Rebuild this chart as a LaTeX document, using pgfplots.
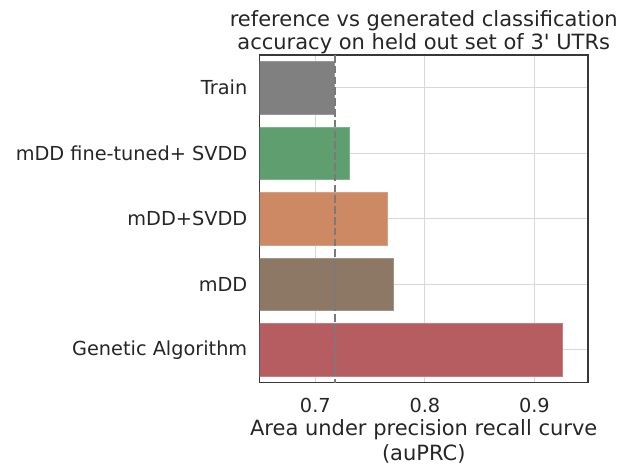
\documentclass[border=0pt]{standalone}
\usepackage{pgfplots}
\pgfplotsset{compat=1.18}
\usepackage{fontspec}
\setmainfont{DejaVu Sans}
\definecolor{txt}{HTML}{262626}
\definecolor{cgray}{HTML}{808080}
\definecolor{cgreen}{HTML}{5F9E6E}
\definecolor{corange}{HTML}{CC8963}
\definecolor{cbrown}{HTML}{8C7864}
\definecolor{cred}{HTML}{B55D60}
\definecolor{gridc}{HTML}{D8D8D8}
\begin{document}
\fontsize{19.3bp}{23bp}\selectfont
\begin{tikzpicture}
\useasboundingbox (0,0) rectangle (634bp,466bp);
\begin{axis}[
  at={(259.5bp,83.3bp)}, anchor=south west,
  scale only axis, width=328.5bp, height=327.7bp,
  xmin=0.649, xmax=0.949, ymin=-0.5, ymax=4.5,
  y dir=reverse,
  xbar, bar shift=0pt, bar width=0.8,
  xtick={0.7,0.8,0.9},
  xticklabels={0.7,0.8,0.9},
  ytick={0,1,2,3,4},
  yticklabels={Train,mDD fine-tuned+ SVDD,mDD+SVDD,mDD,Genetic Algorithm},
  major tick length=0pt,
  grid=major,
  major grid style={color=gridc, line width=1.1bp},
  axis line style={color=black!78, line width=1.25bp},
  tick label style={font=\fontsize{19.3bp}{23bp}\selectfont, color=txt},
  /pgf/number format/assume math mode=true,
  xticklabel style={anchor=north, inner sep=0pt, yshift=-15bp},
  yticklabel style={anchor=east, inner sep=0pt, xshift=-12bp},
  xlabel={Area under precision recall curve\\(auPRC)},
  xlabel style={at={(axis description cs:0.5,0)}, anchor=north, inner sep=0pt, yshift=-36.5bp, align=center, font=\fontsize{21bp}{25bp}\selectfont, color=txt},
  title={reference vs generated classification\\accuracy on held out set of 3\textquotesingle{} UTRs},
  title style={at={(axis description cs:0.5,1)}, anchor=south, inner sep=0pt, yshift=-5bp, align=center, font=\fontsize{21bp}{23bp}\selectfont, color=txt},
  clip=true,
]
\addplot[fill=cgray, draw=cgray!80!white, line width=0.8bp] coordinates {(0.7175,0)};
\addplot[fill=cgreen, draw=cgreen!80!white, line width=0.8bp] coordinates {(0.731,1)};
\addplot[fill=corange, draw=corange!80!white, line width=0.8bp] coordinates {(0.766,2)};
\addplot[fill=cbrown, draw=cbrown!80!white, line width=0.8bp] coordinates {(0.771,3)};
\addplot[fill=cred, draw=cred!80!white, line width=0.8bp] coordinates {(0.926,4)};
\addplot[draw=black!52, line width=2bp, dash pattern=on 7.5bp off 3.3bp, sharp plot, mark=none] coordinates {(0.7175,-0.5) (0.7175,4.5)};
\end{axis}
\end{tikzpicture}
\end{document}
